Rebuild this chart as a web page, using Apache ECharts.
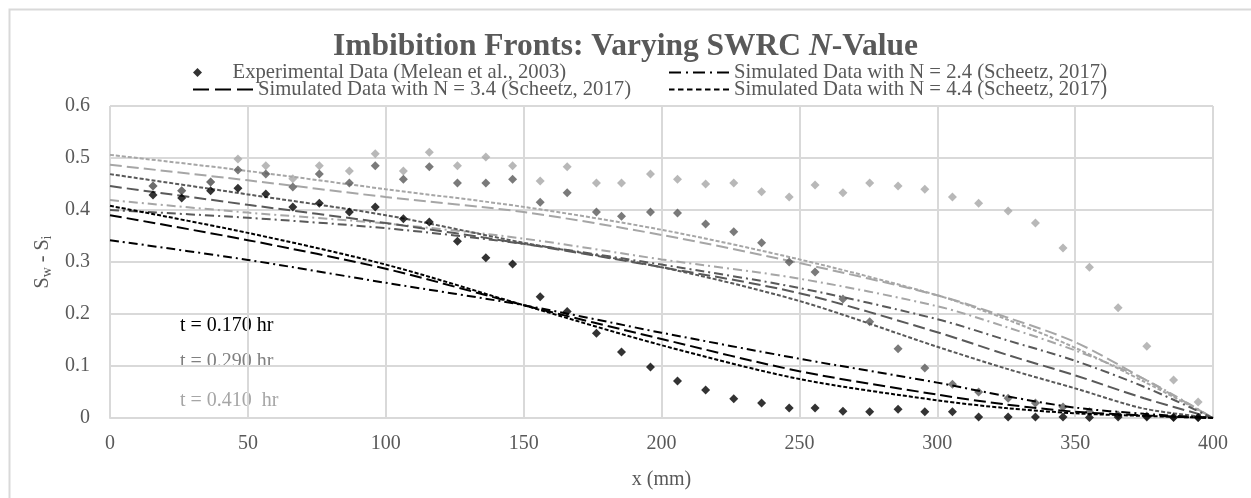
<!DOCTYPE html>
<html>
<head>
<meta charset="utf-8">
<script src="https://cdn.jsdelivr.net/npm/echarts@6/dist/echarts.min.js"></script>
<style>
html,body{margin:0;padding:0;background:#fff;}
#chart{width:1251px;height:498px;}
</style>
</head>
<body>
<div id="chart"></div>
<script>
// ---------- data ----------
const xTicks = [0, 50, 100, 150, 200, 250, 300, 350, 400];
const yTicks = [0, 0.1, 0.2, 0.3, 0.4, 0.5, 0.6];

// experimental x positions (mm)
const xExp = [15.6, 26, 36.5, 46.4, 56.5, 66.3, 75.9, 86.8, 96.2, 106.4, 115.8, 126, 136.3, 146, 156, 165.8, 176.4, 185.5, 196, 205.8, 216, 226.2, 236.3, 246.3, 255.7, 265.8, 275.5, 285.8, 295.5, 305.5, 315, 325.7, 335.6, 345.6, 355.2, 365.6, 376, 385.7, 394.6];
const expT170 = [0.429, 0.423, 0.437, 0.442, 0.431, 0.406, 0.413, 0.396, 0.406, 0.383, 0.377, 0.340, 0.308, 0.296, 0.233, 0.205, 0.163, 0.127, 0.098, 0.071, 0.054, 0.037, 0.029, 0.019, 0.019, 0.013, 0.012, 0.017, 0.012, 0.012, 0.002, 0.002, 0.002, 0.002, 0.001, 0.002, 0.002, 0.001, 0.001];
const expT290 = [0.446, 0.437, 0.454, 0.477, 0.469, 0.444, 0.469, 0.452, 0.485, 0.459, 0.483, 0.452, 0.452, 0.459, 0.415, 0.433, 0.396, 0.388, 0.396, 0.394, 0.373, 0.358, 0.337, 0.300, 0.281, 0.229, 0.185, 0.133, 0.096, 0.065, 0.050, 0.038, 0.029, 0.021, 0.012, 0.006, 0.004, 0.002, 0.001];
const expT410 = [0.446, 0.437, 0.454, 0.498, 0.485, 0.460, 0.485, 0.475, 0.508, 0.475, 0.511, 0.485, 0.502, 0.485, 0.456, 0.483, 0.452, 0.452, 0.469, 0.459, 0.450, 0.452, 0.435, 0.425, 0.448, 0.433, 0.452, 0.446, 0.440, 0.425, 0.413, 0.398, 0.375, 0.327, 0.290, 0.212, 0.138, 0.073, 0.031];

// simulated profiles
const xSim = [0, 50, 100, 150, 200, 250, 300, 325, 350, 375, 400];
const simN24_T170 = [0.342, 0.304, 0.260, 0.217, 0.164, 0.114, 0.068, 0.042, 0.020, 0.008, 0];
const simN34_T170 = [0.390, 0.342, 0.287, 0.217, 0.152, 0.090, 0.045, 0.026, 0.012, 0.005, 0];
const simN44_T170 = [0.408, 0.356, 0.295, 0.217, 0.140, 0.075, 0.034, 0.019, 0.009, 0.004, 0];
const simN24_T290 = [0.400, 0.385, 0.365, 0.335, 0.295, 0.250, 0.190, 0.150, 0.110, 0.060, 0];
const simN34_T290 = [0.446, 0.410, 0.375, 0.335, 0.290, 0.240, 0.165, 0.122, 0.082, 0.038, 0];
const simN44_T290 = [0.469, 0.430, 0.390, 0.337, 0.290, 0.225, 0.137, 0.095, 0.057, 0.018, 0];
const simN24_T410 = [0.419, 0.395, 0.374, 0.345, 0.305, 0.268, 0.215, 0.175, 0.130, 0.075, 0];
const simN34_T410 = [0.487, 0.457, 0.425, 0.396, 0.352, 0.298, 0.236, 0.194, 0.146, 0.075, 0];
const simN44_T410 = [0.506, 0.475, 0.440, 0.406, 0.362, 0.305, 0.236, 0.190, 0.135, 0.070, 0];

const legendNames = [
  'Experimental Data (Melean et al., 2003)',
  'Simulated Data with N = 2.4 (Scheetz, 2017)',
  'Simulated Data with N = 3.4 (Scheetz, 2017)',
  'Simulated Data with N = 4.4 (Scheetz, 2017)'
];
const timeLabels = ['t = 0.170 hr', 't = 0.290 hr', 't = 0.410  hr'];

// ---------- styling ----------
const FONT = '"Liberation Serif", "Times New Roman", serif';
const C_BLACK = '#000000', C_DARK = '#595959', C_LIGHT = '#a6a6a6';
const DASH_DOT = [9, 4, 2, 4], LONG_DASH = [12, 5], SHORT_DASH = [4, 2];
const DIAMOND = 'path://M0,-1L1,0L0,1L-1,0Z';
// legend icons drawn as dash patterns (60 x 2)
function dashPath(segs) {
  return 'path://' + segs.map(s => 'M' + s[0] + ',0H' + s[1] + 'V2H' + s[0] + 'Z').join('');
}
const ICON_DASH_DOT = dashPath([[0, 12], [17, 19], [24, 36], [41, 43], [48, 60]]);
const ICON_LONG_DASH = dashPath([[0, 16], [22, 38], [44, 60]]);
const ICON_SHORT_DASH = dashPath([[0, 5.5], [9, 14.5], [18, 23.5], [27, 32.5], [36, 41.5], [45, 50.5], [54, 60]]);

function pairs(xs, ys) { return xs.map((x, i) => [x, ys[i]]); }
function scatter(name, ys, color, z) {
  return { name, type: 'scatter', data: pairs(xExp, ys), symbol: DIAMOND, symbolSize: 9,
    itemStyle: { color }, z, silent: true };
}
function line(name, ys, color, dash, z) {
  return { name, type: 'line', data: pairs(xSim, ys), symbol: 'none', smooth: 0.3,
    lineStyle: { color, width: 2, type: dash }, itemStyle: { color }, z, silent: true };
}

const series = [
  scatter('exp_t410', expT410, C_LIGHT, 1),
  line('n24_t410', simN24_T410, C_LIGHT, DASH_DOT, 1),
  line('n34_t410', simN34_T410, C_LIGHT, LONG_DASH, 1),
  line('n44_t410', simN44_T410, C_LIGHT, SHORT_DASH, 1),
  scatter('exp_t290', expT290, C_DARK, 2),
  line('n24_t290', simN24_T290, C_DARK, DASH_DOT, 2),
  line('n34_t290', simN34_T290, C_DARK, LONG_DASH, 2),
  line('n44_t290', simN44_T290, C_DARK, SHORT_DASH, 2),
  scatter(legendNames[0], expT170, C_BLACK, 3),
  line(legendNames[1], simN24_T170, C_BLACK, DASH_DOT, 3),
  line(legendNames[2], simN34_T170, C_BLACK, LONG_DASH, 3),
  line(legendNames[3], simN44_T170, C_BLACK, SHORT_DASH, 3)
];

const legTxt = { fontFamily: FONT, fontSize: 20.7, color: '#595959' };
function legend(name, left, top, icon, h) {
  return { data: [{ name, icon }], left, top, itemWidth: 60, itemHeight: h,
    textStyle: legTxt, selectedMode: false, padding: 0, itemGap: 0,
    itemStyle: { color: '#000', borderWidth: 0 } };
}

const chart = echarts.init(document.getElementById('chart'), null, { renderer: 'canvas' });
chart.setOption({
  animation: false,
  backgroundColor: '#fff',
  title: {
    text: 'Imbibition Fronts: Varying SWRC {it|N}-Value',
    left: 'center', top: 26,
    textStyle: { fontFamily: FONT, fontSize: 31.5, fontWeight: 'bold', color: '#595959',
      rich: { it: { fontFamily: FONT, fontSize: 31.5, fontWeight: 'bold', fontStyle: 'italic', color: '#595959' } } }
  },
  legend: [
    legend(legendNames[0], 193, 62, DIAMOND, 9),
    legend(legendNames[1], 669, 62, ICON_DASH_DOT, 2),
    legend(legendNames[2], 193, 79, ICON_LONG_DASH, 2),
    legend(legendNames[3], 669, 79, ICON_SHORT_DASH, 2)
  ],
  grid: { left: 110, right: 38, top: 106, bottom: 80, containLabel: false },
  xAxis: {
    type: 'value', min: xTicks[0], max: xTicks[xTicks.length - 1], interval: 50,
    name: 'x (mm)', nameLocation: 'middle', nameGap: 52,
    nameTextStyle: { fontFamily: FONT, fontSize: 20, color: '#595959' },
    axisLine: { show: true, lineStyle: { color: '#d9d9d9', width: 2 } },
    axisTick: { show: false },
    axisLabel: { fontFamily: FONT, fontSize: 20, color: '#595959', margin: 16 },
    splitLine: { show: true, lineStyle: { color: '#d9d9d9', width: 2 } }
  },
  yAxis: {
    type: 'value', min: yTicks[0], max: yTicks[yTicks.length - 1], interval: 0.1,
    name: 'S{sub|w} - S{sub|i}', nameLocation: 'middle', nameGap: 56, nameRotate: 90,
    nameTextStyle: { fontFamily: FONT, fontSize: 20, color: '#595959',
      rich: { sub: { fontFamily: FONT, fontSize: 14, color: '#595959', verticalAlign: 'bottom', padding: [8, 0, 0, 0] } } },
    axisLine: { show: false },
    axisTick: { show: false },
    axisLabel: { fontFamily: FONT, fontSize: 20, color: '#595959', margin: 20,
      formatter: v => (v === 0 ? '0' : v.toFixed(1)) },
    splitLine: { show: true, lineStyle: { color: '#d9d9d9', width: 2 } }
  },
  graphic: [
    { type: 'rect', left: 7, top: 7, shape: { width: 1270, height: 520 }, silent: true,
      style: { fill: 'none', stroke: '#d9d9d9', lineWidth: 2 }, z: -10 },
    { type: 'text', left: 180, top: 316, silent: true, style: { text: timeLabels[0], font: '20px ' + FONT, fill: C_BLACK } },
    { type: 'text', left: 180, top: 352, silent: true, style: { text: timeLabels[1], font: '20px ' + FONT, fill: '#808080' } },
    { type: 'text', left: 180, top: 391, silent: true, style: { text: timeLabels[2], font: '20px ' + FONT, fill: C_LIGHT } }
  ],
  series
});
</script>
</body>
</html>
